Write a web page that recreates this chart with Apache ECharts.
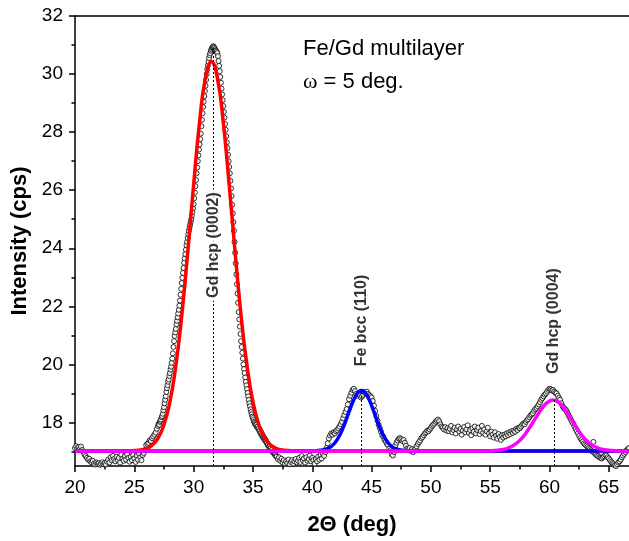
<!DOCTYPE html>
<html><head><meta charset="utf-8">
<script src="https://cdn.jsdelivr.net/npm/echarts@6/dist/echarts.min.js"></script>
<style>html,body{margin:0;padding:0;background:#fff}#c{width:629px;height:541px}</style>
</head><body><div id="c"></div>
<script>
// ---- measured scan (2Theta grid start/step, intensity values) ----
const seg1Start = 20.0, seg1Step = 0.1;
const seg1Y = [17.12,17.18,17.10,17.15,17.08,17.17,17.05,16.98,16.90,16.84,
 16.78,16.72,16.75,16.66,16.62,16.68,16.58,16.55,16.62,16.57,
 16.60,16.54,16.58,16.63,16.56,16.60,16.55,16.65,16.72,16.62,
 16.80,16.70,16.85,16.74,16.66,16.82,16.70,16.78,16.62,16.88,
 16.75,16.68,16.84,16.72,16.90,16.78,16.65,16.82,16.70,16.88,
 16.76,16.64,16.85,16.72,16.92,16.80,16.70,16.88,16.95,17.05,
 17.22,17.26,17.30,17.38,17.36,17.46,17.52,17.58,17.65,17.78];
const seg2Start = 27.0, seg2Step = 0.05;
const seg2Y = [17.88,17.95,17.92,18.02,18.06,18.10,18.18,18.22,18.30,18.42,18.52,18.66,18.78,18.90,19.05,19.18,19.28,19.40,19.48,19.60,
 19.70,19.82,19.92,20.05,20.20,20.38,20.60,20.80,20.98,21.10,21.22,21.38,21.50,21.62,21.75,21.88,22.02,22.20,22.40,22.60,
 22.80,22.98,23.15,23.32,23.50,23.65,23.80,23.95,24.10,24.22,24.35,24.48,24.60,24.70,24.80,24.90,25.00,25.12,25.25,25.38,
 25.52,25.72,25.92,26.14,26.35,26.58,26.78,27.00,27.20,27.40,27.58,27.76,27.95,28.20,28.42,28.65,28.87,29.05,29.24,29.42,
 29.60,29.80,30.00,30.16,30.30,30.42,30.55,30.65,30.72,30.80,30.85,30.90,30.92,30.96,30.94,30.90,30.86,30.82,30.80,30.76,
 30.72,30.62,30.45,30.28,30.10,29.90,29.70,29.50,29.30,29.10,28.90,28.70,28.50,28.28,28.08,27.86,27.65,27.45,27.22,27.00,
 26.80,26.58,26.32,26.06,25.80,25.50,25.20,24.90,24.60,24.22,23.85,23.48,23.10,22.76,22.44,22.12,21.80,21.55,21.30,21.05,
 20.80,20.60,20.40,20.20,20.00,19.84,19.70,19.55,19.40,19.28,19.15,19.02,18.90,18.78,18.66,18.56,18.45,18.36,18.28,18.20,
 18.15,18.08,18.02,17.98,17.94,17.90,17.92,17.84,17.86,17.78,17.80,17.70,17.74,17.62,17.66,17.55,17.58,17.48,17.50,17.42,
 17.44,17.36,17.38,17.30,17.30,17.22,17.24,17.16,17.18,17.10,17.12,17.04,17.06,16.98,17.00,16.94,16.96,16.88,16.90,16.84];
const seg3Start = 37.0, seg3Step = 0.1;
const seg3Y = [16.82,16.74,16.80,16.68,16.75,16.62,16.70,16.58,16.66,16.60,
 16.72,16.56,16.64,16.70,16.58,16.66,16.74,16.62,16.68,16.78,
 16.64,16.84,16.70,16.76,16.62,16.80,16.68,16.74,16.86,16.66,
 16.78,16.70,16.58,16.74,16.66,16.82,16.72,16.88,16.76,16.92,
 16.85,16.98,17.12,17.28,17.45,17.55,17.62,17.58,17.66,17.62,
 17.70,17.74,17.80,17.86,17.94,18.02,18.14,18.25,18.36,18.46,
 18.62,18.80,18.92,19.02,19.12,19.16,19.08,18.98,18.92,19.00,
 18.94,18.86,18.90,18.96,19.04,19.00,19.06,18.98,18.94,18.90,
 18.86,18.74,18.58,18.40,18.22,18.06,17.92,17.80,17.68,17.56,
 17.50,17.40,17.34,17.26,17.22,17.10,17.04,16.90,16.86,16.98,
 17.20,17.30,17.38,17.44,17.46,17.42,17.36,17.40,17.30,17.20,
 17.10,17.06,17.12,17.02,17.08,16.98,17.04,17.10,17.18,17.26,
 17.32,17.38,17.46,17.50,17.56,17.62,17.66,17.72,17.70,17.76,
 17.82,17.88,17.92,17.96,18.02,18.06,18.10,18.04,17.94,17.86,
 17.82,17.76,17.84,17.72,17.80,17.70,17.78,17.88,17.66,17.74,
 17.82,17.62,17.76,17.86,17.68,17.78,17.58,17.72,17.84,17.66,
 17.76,17.90,17.64,17.74,17.56,17.80,17.68,17.86,17.62,17.74,
 17.82,17.60,17.70,17.88,17.64,17.76,17.58,17.70,17.82,17.62,
 17.52,17.68,17.58,17.48,17.66,17.54,17.44,17.60,17.50,17.40,
 17.56,17.48,17.58,17.52,17.62,17.56,17.66,17.60,17.70,17.64,
 17.72,17.68,17.78,17.74,17.82,17.80,17.86,17.92,17.96,17.94,
 18.02,18.08,18.12,18.18,18.24,18.28,18.32,18.40,18.46,18.50,
 18.56,18.62,18.70,18.78,18.84,18.90,18.96,19.00,19.06,19.12,
 19.16,19.14,19.10,19.12,19.06,19.02,19.00,18.92,18.84,18.78,
 18.66,18.56,18.50,18.46,18.42,18.34,18.26,18.18,18.10,18.02,
 17.96,17.86,17.78,17.70,17.62,17.54,17.46,17.40,17.34,17.28,
 17.24,17.20,17.16,17.12,17.08,17.04,17.00,17.33,16.94,16.90,
 16.86,16.84,16.80,16.78,16.76,16.80,16.84,16.88,16.86,16.80,
 16.76,16.70,16.64,16.60,16.56,16.52,16.50,16.56,16.62,16.66,
 16.72,16.80,16.86,16.92,16.98,17.04,17.08,17.12];

// ---- fitted peaks ----
const redX = [20,24.5,25,25.5,26,26.5,27,27.5,28,28.5,29,29.5,30,30.5,31,31.5,32,32.5,33,33.5,34,34.5,35,35.5,36,36.5,37,37.5,38,38.5,66.7];
const redY = [17.02,17.02,17.03,17.05,17.10,17.22,17.46,17.92,18.71,19.95,21.68,23.84,26.18,28.34,29.87,30.42,29.87,28.34,26.18,23.84,21.68,19.95,18.71,17.92,17.46,17.22,17.10,17.05,17.03,17.02,17.02];
const blueX = [20,40.15,40.65,41.15,41.65,42.15,42.65,43.15,43.65,44.15,44.65,45.15,45.65,46.15,46.65,47.15,47.65,48.15,66.7];
const blueY = [17.02,17.02,17.04,17.08,17.19,17.44,17.87,18.42,18.90,19.10,18.90,18.42,17.87,17.44,17.19,17.08,17.04,17.02,17.02];
const magX = [20,54.3,54.8,55.3,55.8,56.3,56.8,57.3,57.8,58.3,58.8,59.3,59.8,60.3,60.8,61.3,61.8,62.3,62.8,63.3,63.8,64.3,64.8,65.3,65.8,66.7];
const magY = [17.02,17.02,17.02,17.03,17.05,17.09,17.17,17.31,17.52,17.81,18.13,18.45,18.68,18.77,18.68,18.45,18.13,17.81,17.52,17.31,17.17,17.09,17.05,17.03,17.02,17.02];

// ---- axes ----
const xMajorTicks = [20,25,30,35,40,45,50,55,60,65];
const xMinorTicks = [22.5,27.5,32.5,37.5,42.5,47.5,52.5,57.5,62.5];
const yMajorTicks = [18,20,22,24,26,28,30,32];
const yMinorTicks = [17,19,21,23,25,27,29,31];
const xMin = 20, xMax = 66.7, yMin = 16.5, yMax = 32;

// ---- peak annotations ----
const peakNames = ['Gd hcp (0002)','Fe bcc (110)','Gd hcp (0004)'];
const peakX = [31.65, 44.12, 60.38];
const peakTopY = [30.92, 19.05, 18.77];
const peakLabelY = [24.11, 21.51, 21.49];

function seg(start, step, ys){ return ys.map((y,i)=>[Math.round((start+i*step)*1000)/1000, y]); }
const obs = seg(seg1Start,seg1Step,seg1Y).concat(seg(seg2Start,seg2Step,seg2Y), seg(seg3Start,seg3Step,seg3Y));
const pairs = (xs, ys) => xs.map((x,i)=>[x, ys[i]]);

const FONT = 'Liberation Sans, Arial, sans-serif';
const chart = echarts.init(document.getElementById('c'), null, {renderer:'canvas'});
const axisLine = {show:true, lineStyle:{color:'#000', width:1.5}};
chart.setOption({
  animation:false,
  backgroundColor:'#fff',
  grid:{left:75, right:0, top:16, bottom:75},
  xAxis:[
    {type:'value', min:xMin, max:xMax, position:'bottom', axisLine:axisLine,
     axisTick:{show:true, inside:false, length:6, customValues:xMajorTicks, lineStyle:{color:'#000', width:1.5}},
     axisLabel:{customValues:xMajorTicks, fontSize:19, color:'#000', fontFamily:FONT, margin:12},
     splitLine:{show:false},
     name:'2\u0398 (deg)', nameLocation:'middle', nameGap:48,
     nameTextStyle:{fontSize:22, fontWeight:'bold', color:'#000', fontFamily:FONT}},
    {type:'value', min:xMin, max:xMax, position:'bottom', axisLine:{show:false},
     axisTick:{show:true, length:3.5, customValues:xMinorTicks, lineStyle:{color:'#000', width:1.5}},
     axisLabel:{show:false}, splitLine:{show:false}},
    {type:'value', min:xMin, max:xMax, position:'top', axisLine:axisLine,
     axisTick:{show:false}, axisLabel:{show:false}, splitLine:{show:false}}
  ],
  yAxis:[
    {type:'value', min:yMin, max:yMax, position:'left', axisLine:axisLine,
     axisTick:{show:true, inside:false, length:6, customValues:yMajorTicks, lineStyle:{color:'#000', width:1.5}},
     axisLabel:{customValues:yMajorTicks, fontSize:19, color:'#000', fontFamily:FONT, margin:12},
     splitLine:{show:false},
     name:'Intensity (cps)', nameLocation:'middle', nameGap:42,
     nameTextStyle:{fontSize:22, fontWeight:'bold', color:'#000', fontFamily:FONT}},
    {type:'value', min:yMin, max:yMax, position:'left', axisLine:{show:false},
     axisTick:{show:true, length:3.5, customValues:yMinorTicks, lineStyle:{color:'#000', width:1.5}},
     axisLabel:{show:false}, splitLine:{show:false}}
  ],
  graphic:[
    {type:'text', left:303, top:38, style:{text:'Fe/Gd multilayer', fontSize:22, fontFamily:FONT, fill:'#000'}},
    {type:'text', left:303, top:71, style:{text:'{w|\u03c9}{t| = 5 deg.}', fill:'#000',
      rich:{w:{fontSize:22, fontFamily:'Liberation Serif, serif'}, t:{fontSize:22, fontFamily:FONT}}}}
  ],
  series:[
    {type:'scatter', name:'data', data:obs, symbol:'circle', symbolSize:5, z:2,
     itemStyle:{color:'#fff', borderColor:'#000', borderWidth:1}},
    {type:'line', name:'Gd(0002) fit', data:pairs(redX,redY), showSymbol:false, smooth:true, z:3,
     lineStyle:{color:'#ff0000', width:3.5}},
    {type:'line', name:'Fe(110) fit', data:pairs(blueX,blueY), showSymbol:false, smooth:true, z:3,
     lineStyle:{color:'#0000ff', width:3.5}},
    {type:'line', name:'Gd(0004) fit', data:pairs(magX,magY), showSymbol:false, smooth:true, z:3,
     lineStyle:{color:'#ff00ff', width:3.5}},
    {type:'scatter', name:'peaks', z:10, symbolSize:0,
     data:peakX.map((x,i)=>({name:peakNames[i], value:[x, peakLabelY[i]]})),
     label:{show:true, position:'inside', rotate:90, formatter:'{b}', fontSize:16, fontWeight:'bold',
       color:'#000', fontFamily:FONT, backgroundColor:'#fff', padding:[0,3]},
     markLine:{silent:true, z:4, symbol:['none','none'], label:{show:false},
       lineStyle:{color:'#000', width:1, type:[2,2]},
       data:peakX.map((x,i)=>[{coord:[x,yMin]},{coord:[x,peakTopY[i]]}])}}
  ]
});
</script></body></html>
